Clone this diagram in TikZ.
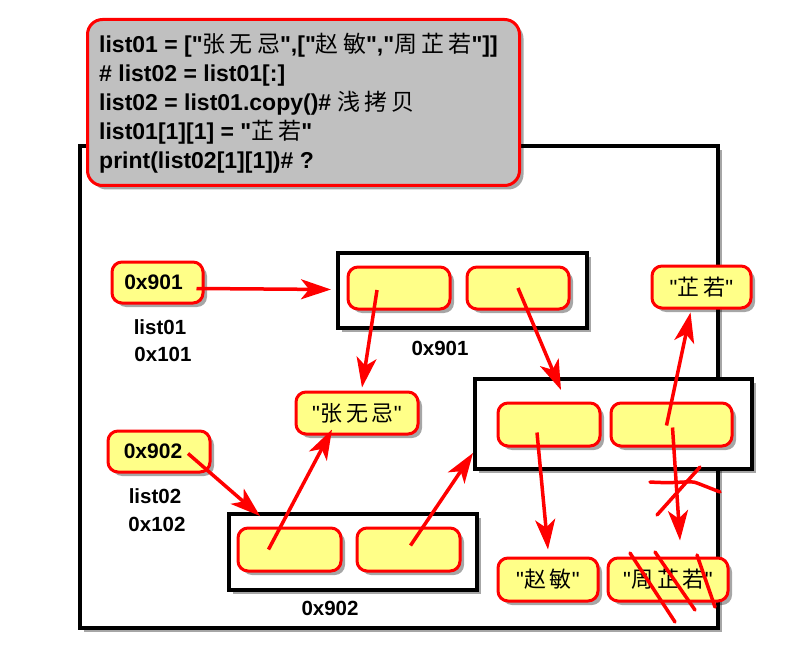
\documentclass[tikz,border=0pt]{standalone}
\usepackage{fontspec}
\setmainfont{Liberation Sans}[Ligatures=TeXOff]
\newfontfamily\cjk{Noto Sans CJK SC}[Ligatures=TeXOff, LetterSpace=18]
\newcommand{\zh}[1]{{\cjk\mdseries #1}}
\usetikzlibrary{arrows.meta,shadows,calc}
\definecolor{memo}{RGB}{255,255,136}
\definecolor{codegray}{RGB}{192,192,192}
\tikzset{
  x=1pt, y=-1pt,
  softshadow/.style={drop shadow={shadow xshift=4pt, shadow yshift=-4pt, fill=black, opacity=0.35}},
  frame/.style={draw=black, line width=4pt, fill=white, softshadow},
  cell/.style={draw=red, line width=3pt, fill=memo, rounded corners=10pt, softshadow,
    inner sep=0pt, font=\bfseries\fontsize{21}{23}\selectfont},
  strnode/.style={cell, font=\fontsize{22}{24}\selectfont},
  lbl/.style={font=\bfseries\fontsize{20.5}{22}\selectfont},
  arr/.style={draw=red, line width=3.5pt, -{Stealth[length=30pt,width=20pt,inset=8pt]}},
  strike/.style={draw=red, line width=3.5pt, line cap=round},
}
\begin{document}
\begin{tikzpicture}
\useasboundingbox (0,0) rectangle (785,666);

% heap area
\node[frame, minimum width=638pt, minimum height=482pt] (heap) at (399,387) {};

% list objects
\node[frame, minimum width=249pt, minimum height=75pt] (box1) at (462.5,290.5) {};
\node[frame, minimum width=277pt, minimum height=90pt] (box2) at (613.5,424) {};
\node[frame, minimum width=248pt, minimum height=76pt] (box3) at (353,552) {};

% list slots
\node[cell, minimum width=102pt, minimum height=42pt] (c1) at (399,288) {};
\node[cell, minimum width=102pt, minimum height=42pt] (c2) at (518,288) {};
\node[cell, minimum width=102pt, minimum height=43pt] (e1) at (549,424.5) {};
\node[cell, minimum width=121pt, minimum height=43pt] (e2) at (671.5,424.5) {};
\node[cell, minimum width=103pt, minimum height=43pt] (d1) at (289.5,549.5) {};
\node[cell, minimum width=103pt, minimum height=43pt] (d2) at (408.5,549.5) {};

% string objects
\node[strnode, minimum width=122pt, minimum height=42pt] (zhang) at (357,413) {"\zh{张无忌}"};
\node[strnode, minimum width=99pt, minimum height=42pt] (ruo) at (701.5,287) {"\zh{芷若}"};
\node[strnode, minimum width=100pt, minimum height=43pt] (zhao) at (548,579.5) {"\zh{赵敏}"};
\node[strnode, minimum width=120pt, minimum height=43pt] (zhou) at (668,579.5) {"\zh{周芷若}"};

% variables
\node[cell, minimum width=91pt, minimum height=41pt] (v1) at (157.5,282.5) {\hspace*{-8pt}0x901};
\node[cell, minimum width=102pt, minimum height=41pt] (v2) at (159,451.5) {\hspace*{-12pt}0x902};

% labels
\node[lbl] (n1) at (160,327) {list01};
\node[lbl] (a1) at (163,354) {0x101};
\node[lbl] (n2) at (155,496) {list02};
\node[lbl] (a2) at (157,524) {0x102};
\node[lbl] (b1) at (440,348) {0x901};
\node[lbl] (b3) at (330,608) {0x902};

% source code
\node[draw=red, line width=3pt, fill=codegray, rounded corners=15pt, softshadow,
  minimum width=432pt, minimum height=166pt, anchor=north west] (code) at (86,18) {};
\node[anchor=north west, align=left, inner sep=0pt,
  font=\bfseries\fontsize{23}{29}\selectfont] (src) at (99,33)
  {list01 = ["\zh{张无忌}",["\zh{赵敏}","\zh{周芷若}"]]\\
   \# list02 = list01[:]\\
   list02 = list01.copy()\# \zh{浅拷贝}\\
   list01[1][1] = "\zh{芷若}"\\
   print(list02[1][1])\# ?};

% references
\draw[arr] ($(v1.east)+(-8,6)$) -- ($(box1.west)+(-5,-1)$);
\draw[arr] ($(c1.center)+(-22,2)$) -- ($(zhang.north)+(5,-3)$);
\draw[arr] ($(c2.center)+(0,0)$) -- ($(box2.north west)+(88,13)$);
\draw[arr] ($(v2.center)+(29,2)$) -- ($(box3.north west)+(33,4)$);
\draw[arr] ($(d1.center)+(-21,0)$) -- ($(zhang.south)+(-25,-6)$);
\draw[arr] ($(d2.center)+(2,-4)$) -- ($(box2.south west)+(0,-18)$);
\draw[arr] ($(e1.center)+(-12,8)$) -- ($(zhao.north)+(0,-7)$);
\draw[arr] ($(e2.center)+(-5,1)$) -- ($(ruo.south)+(-11,3)$);
\draw[arr] ($(e2.center)+(1,3)$) -- ($(zhou.north)+(12,-16)$);

% crossed-out reference and string
\draw[strike] (650,482) .. controls (680,484) and (690,480) .. (697,483) -- (720,492);
\draw[strike] (700,467) -- (657,515);
\draw[strike] (630,553) -- (675,622);
\draw[strike] (655,552) -- (695,610);
\draw[strike] (697,555) -- (715,607);
\end{tikzpicture}
\end{document}
